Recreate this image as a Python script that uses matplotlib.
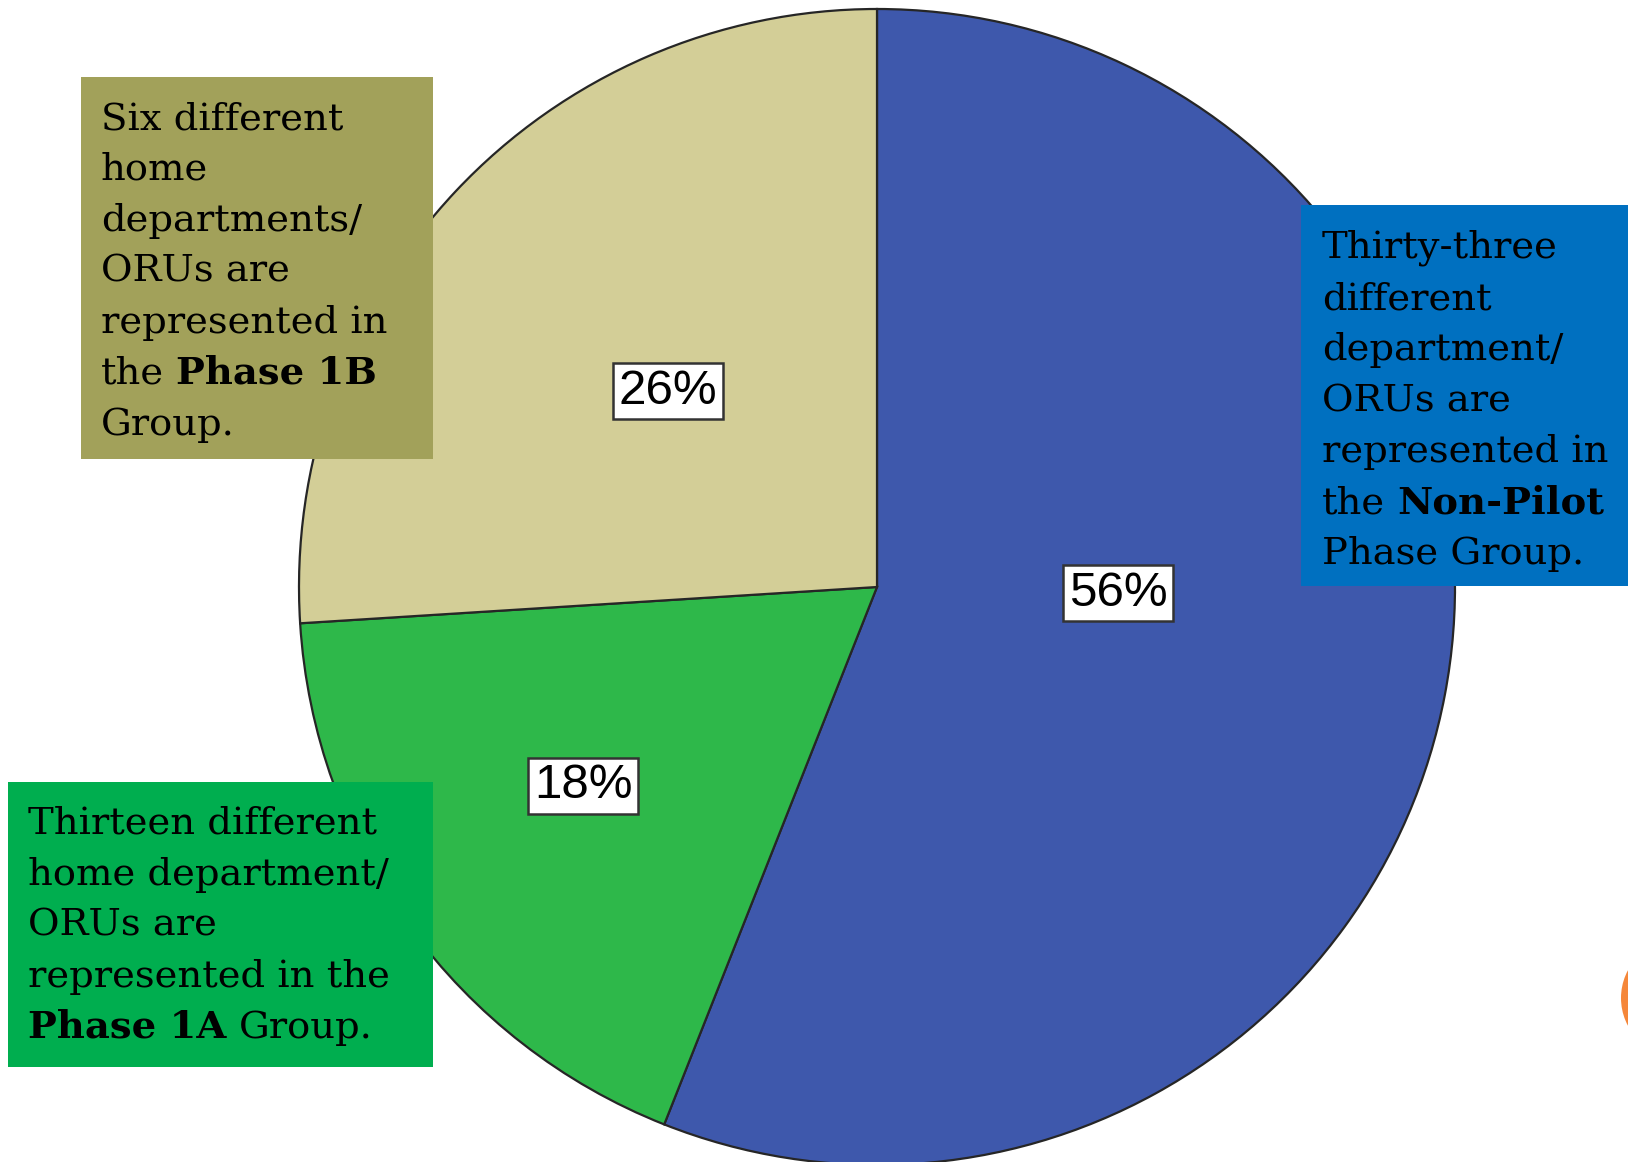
import matplotlib
matplotlib.use("Agg")
import matplotlib.pyplot as plt
from matplotlib.patches import Rectangle, Circle

# share of home departments / ORUs by rollout group
groups = ["Non-Pilot Phase", "Phase 1A", "Phase 1B"]
shares = [56, 18, 26]
slice_colors = ["#3E58AC", "#2EB84A", "#D3CE97"]

# callout text, one list of (segment, bold) per line
note_1b = [[("Six different", False)], [("home", False)], [("departments/", False)],
           [("ORUs are", False)], [("represented in", False)],
           [("the", False), ("Phase 1B", True)], [("Group.", False)]]
note_np = [[("Thirty-three", False)], [("different", False)], [("department/", False)],
           [("ORUs are", False)], [("represented in", False)],
           [("the", False), ("Non-Pilot", True)], [("Phase Group.", False)]]
note_1a = [[("Thirteen different", False)], [("home department/", False)],
           [("ORUs are", False)], [("represented in the", False)],
           [("Phase 1A", True), ("Group.", False)]]

W, H = 1628, 1162

def py(y):
    # pixel row (from top) -> data y
    return H - y

fig = plt.figure(figsize=(W / 100, H / 100), dpi=100)
ax = fig.add_axes([0, 0, 1, 1])

wedges, _ = ax.pie(shares, colors=slice_colors, startangle=90, counterclock=False,
                   center=(877, py(587)), radius=578,
                   wedgeprops=dict(edgecolor="#262626", linewidth=1.6))
ax.set_xlim(0, W)
ax.set_ylim(0, H)
ax.set_aspect("auto")
ax.axis("off")

# percentage labels
label_pos = [(1118, 593), (583, 786), (668, 391)]
for v, (lx, ly) in zip(shares, label_pos):
    ax.text(lx, py(ly), f"{v}%", ha="center", va="center", fontsize=35.5,
            family="Liberation Sans", zorder=4,
            bbox=dict(boxstyle="square,pad=0.12", facecolor="white",
                      edgecolor="#333333", linewidth=1.8))

# coloured callout boxes
boxes = [
    (81, 77, 433, 459, "#A2A15A", 101, 129, note_1b),
    (1301, 205, 1640, 586, "#0070C0", 1322, 258, note_np),
    (8, 782, 433, 1067, "#00AE4F", 28, 834, note_1a),
]

renderer = fig.canvas.get_renderer()
fsize = 27.7
space_px = 0.318 * fsize * 100 / 72

for x0, y0, x1, y1, col, tx, ty, lines in boxes:
    ax.add_patch(Rectangle((x0, py(y1)), x1 - x0, y1 - y0, facecolor=col,
                           edgecolor="none", zorder=3))
    for i, line in enumerate(lines):
        cx = tx
        for seg, bold in line:
            t = ax.text(cx, py(ty + i * 51), seg, fontsize=fsize, family="DejaVu Serif",
                        weight="bold" if bold else "normal", ha="left", va="baseline",
                        color="black", zorder=5)
            cx += t.get_window_extent(renderer=renderer).width + space_px

# orange marker at the right edge
ax.add_patch(Circle((1680, py(998)), 59, facecolor="#F5873A", edgecolor="none", zorder=3))

fig.savefig("out.png", dpi=100)
